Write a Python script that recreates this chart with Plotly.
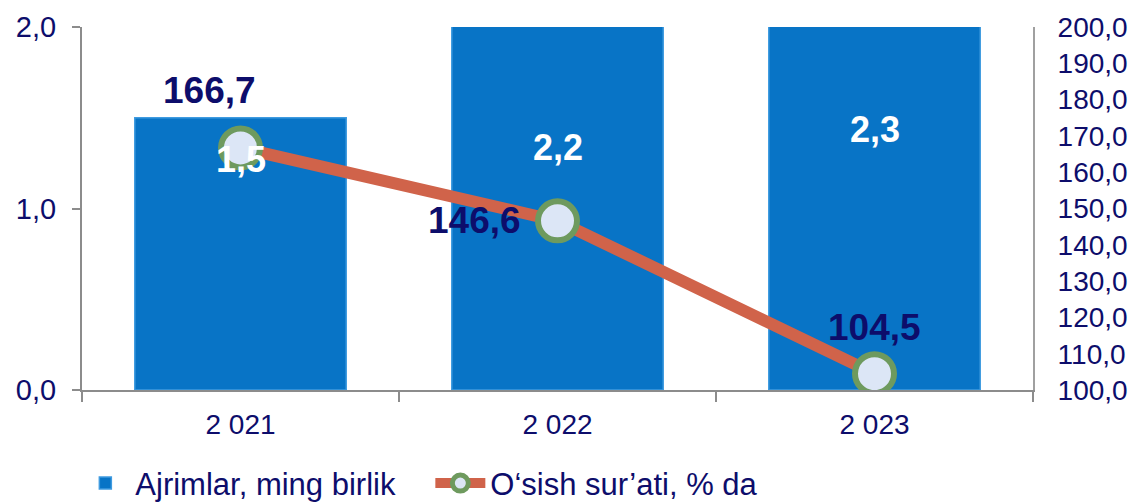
import plotly.graph_objects as go

years = ["2 021", "2 022", "2 023"]
bar_values = [1.5, 2.2, 2.3]
growth_values = [166.7, 146.6, 104.5]
bar_name = "Ajrimlar, ming birlik"
line_name = "O‘sish sur’ati, % da"
left_ticks = [0, 1, 2]
right_ticks = [100, 110, 120, 130, 140, 150, 160, 170, 180, 190, 200]

NAVY = "#0D0D6B"
FONT = "Liberation Sans, Arial, sans-serif"

def fmt(v):
    return f"{v:.1f}".replace(".", ",")

fig = go.Figure()
fig.add_trace(go.Bar(
    x=years, y=bar_values, name=bar_name,
    marker=dict(color="#0874C6", line=dict(color="#3F9BE0", width=1.5)),
    width=0.667, yaxis="y",
))
fig.add_trace(go.Scatter(
    x=years, y=growth_values, name=line_name, yaxis="y2",
    mode="lines+markers",
    line=dict(color="#D0634A", width=12),
    marker=dict(size=39, color="#DCE6F6", line=dict(color="#6E9A5E", width=6)),
))

annotations = []
# bar labels (white, inside bars)
bar_label_y = [0.634, 0.730, 0.780]
for c, v, py in zip(years, bar_values, bar_label_y):
    annotations.append(dict(x=c, y=py, xref="x", yref="paper", text=f"<b>{fmt(v)}</b>",
                            showarrow=False, font=dict(family=FONT, size=36, color="white")))
# line labels
offsets = [(-31, 57), (-83, 0), (0, 46)]
for c, v, (dx, dy) in zip(years, growth_values, offsets):
    annotations.append(dict(x=c, y=v, xref="x", yref="y2", text=f"<b>{fmt(v)}</b>",
                            showarrow=False, xshift=dx, yshift=dy,
                            font=dict(family=FONT, size=37, color=NAVY)))

fig.update_layout(
    width=1145, height=504,
    margin=dict(l=74, r=120, t=19, b=122, autoexpand=False),
    paper_bgcolor="white", plot_bgcolor="white",
    font=dict(family=FONT, size=26, color=NAVY),
    bargap=0.333,
    showlegend=True,
    legend=dict(orientation="h", x=-0.007, xanchor="left", y=-0.183, yanchor="top",
                font=dict(family=FONT, size=31, color=NAVY), itemwidth=50,
                entrywidth=290, entrywidthmode="pixels", traceorder="normal"),
    xaxis=dict(type="category", showline=True, linecolor="#8C8C8C", linewidth=2,
               ticks="outside", tickson="boundaries", ticklen=10, tickcolor="#8C8C8C",
               tickwidth=2, showgrid=False, ticklabelstandoff=8,
               tickfont=dict(size=28, color=NAVY)),
    yaxis=dict(range=[0, 2], tickvals=left_ticks, ticktext=[fmt(t) for t in left_ticks],
               showline=True, linecolor="#8C8C8C", linewidth=2, ticks="outside",
               ticklen=8, tickcolor="#8C8C8C", tickwidth=2, showgrid=False,
               zeroline=False, ticklabelstandoff=10, tickfont=dict(size=29, color=NAVY)),
    yaxis2=dict(range=[100, 200], overlaying="y", side="right",
                tickvals=right_ticks, ticktext=[fmt(t) for t in right_ticks],
                showline=True, linecolor="#A0A0A0", linewidth=2, ticks="",
                showgrid=False, zeroline=False, ticklabelstandoff=17,
                tickfont=dict(size=28, color=NAVY)),
    annotations=annotations,
)

fig.write_html("out.html")
